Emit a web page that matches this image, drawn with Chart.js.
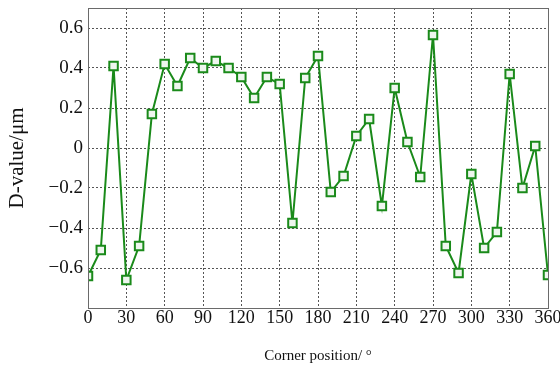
<!DOCTYPE html>
<html>
<head>
<meta charset="utf-8">
<script src="https://cdn.jsdelivr.net/npm/chart.js@4/dist/chart.umd.min.js"></script>
<style>
  html, body { margin: 0; padding: 0; background: #fff; }
  #wrap { width: 560px; height: 365px; }
</style>
</head>
<body>
<div id="wrap"><canvas id="chart"></canvas></div>
<script>
// corner positions (degrees) and measured D-values (um)
const positions = [0, 10, 20, 30, 40, 50, 60, 70, 80, 90, 100, 110, 120, 130, 140, 150, 160, 170, 180,
  190, 200, 210, 220, 230, 240, 250, 260, 270, 280, 290, 300, 310, 320, 330, 340, 350, 360];
const dValues = [-0.64, -0.51, 0.41, -0.66, -0.49, 0.17, 0.42, 0.31, 0.45, 0.40, 0.435, 0.40, 0.355, 0.25,
  0.355, 0.32, -0.375, 0.35, 0.46, -0.22, -0.14, 0.06, 0.145, -0.29, 0.30, 0.03, -0.145, 0.565,
  -0.49, -0.625, -0.13, -0.50, -0.42, 0.37, -0.20, 0.01, -0.635];
const xTicks = [0, 30, 60, 90, 120, 150, 180, 210, 240, 270, 300, 330, 360];
const yTicks = [-0.6, -0.4, -0.2, 0, 0.2, 0.4, 0.6];

const green = '#1a8a1a';
const serif = "'Liberation Serif', 'DejaVu Serif', serif";

// draws the closed box round the plot area
const frame = {
  id: 'frame',
  afterDraw(chart) {
    const a = chart.chartArea;
    const c = chart.ctx;
    c.save();
    c.strokeStyle = '#6a6a6a';
    c.lineWidth = 1;
    c.strokeRect(a.left + 0.5, a.top + 0.5, a.right - a.left, a.bottom - a.top);
    c.restore();
  }
};

new Chart(document.getElementById('chart'), {
  type: 'line',
  data: {
    datasets: [{
      data: positions.map((p, i) => ({ x: p, y: dValues[i] })),
      borderColor: green,
      borderWidth: 2,
      pointStyle: 'rect',
      pointRadius: 6,
      pointBorderWidth: 2,
      pointBorderColor: green,
      pointBackgroundColor: '#eef6ee',
      tension: 0,
      fill: false
    }]
  },
  options: {
    responsive: true,
    maintainAspectRatio: false,
    animation: false,
    layout: { padding: { top: 8, right: 12, left: 0, bottom: 0 } },
    plugins: { legend: { display: false }, tooltip: { enabled: false } },
    scales: {
      x: {
        type: 'linear',
        min: 0,
        max: 360,
        afterBuildTicks: s => { s.ticks = xTicks.map(v => ({ value: v })); },
        afterFit: s => { s.height = 57; s.paddingLeft = 0; s.paddingRight = 0; },
        border: { display: false, dash: [2, 2] },
        grid: { color: '#555', drawTicks: false },
        ticks: {
          padding: -1,
          color: '#111',
          maxRotation: 0,
          font: { family: serif, size: 18 }
        },
        title: {
          display: true,
          text: 'Corner position/ °',
          color: '#111',
          padding: { top: 7, bottom: 0 },
          font: { family: serif, size: 15 }
        }
      },
      y: {
        min: -0.8,
        max: 0.7,
        afterBuildTicks: s => { s.ticks = yTicks.map(v => ({ value: v })); },
        afterFit: s => { s.width = 88; s.paddingTop = 0; s.paddingBottom = 0; },
        border: { display: false, dash: [2, 2] },
        grid: { color: '#555', drawTicks: false },
        ticks: {
          padding: 5,
          color: '#111',
          font: { family: serif, size: 19 },
          callback: v => v === 0 ? '0' : (v < 0 ? '\u2212' + Math.abs(v).toFixed(1) : v.toFixed(1))
        },
        title: {
          display: true,
          text: 'D-value/μm',
          color: '#111',
          padding: { top: 5, bottom: 0 },
          font: { family: serif, size: 21 }
        }
      }
    }
  },
  plugins: [frame]
});
</script>
</body>
</html>
